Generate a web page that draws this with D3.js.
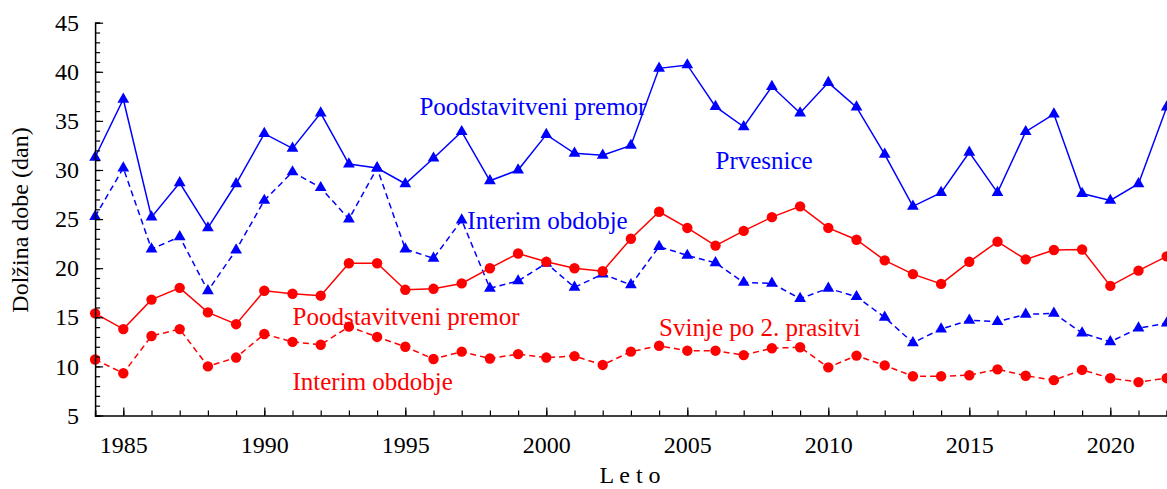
<!DOCTYPE html>
<html>
<head>
<meta charset="utf-8">
<script src="https://cdn.jsdelivr.net/npm/d3@7"></script>
<style>
  html, body { margin: 0; padding: 0; background: #fff; }
  svg { display: block; }
  svg text { font-family: "Liberation Serif", "Times New Roman", Times, serif !important; }
</style>
</head>
<body>
<svg id="chart" width="1167" height="489"></svg>
<script>
// Years 1984–2022
const years = d3.range(1984, 2023);

// Prvesnice (gilts)
const prvesnicePremor = [31.3, 37.2, 25.2, 28.7, 24.1, 28.6, 33.7, 32.2, 35.8, 30.6,
  30.2, 28.6, 31.2, 33.9, 28.9, 30.0, 33.6, 31.7, 31.5, 32.5,
  40.35, 40.7, 36.45, 34.4, 38.5, 35.8, 38.9, 36.4, 31.6, 26.3,
  27.7, 31.8, 27.7, 33.9, 35.7, 27.6, 26.9, 28.6, 36.4];
const prvesniceInterim = [25.25, 30.2, 21.95, 23.2, 17.7, 21.85, 26.9, 29.8, 28.2, 25.0,
  30.2, 21.95, 21.0, 24.9, 17.95, 18.7, 20.5, 18.05, 19.4, 18.3,
  22.2, 21.3, 20.55, 18.55, 18.45, 16.9, 17.95, 17.1, 15.0, 12.4,
  13.8, 14.7, 14.55, 15.3, 15.4, 13.4, 12.5, 13.9, 14.4];

// Svinje po 2. prasitvi (sows after 2nd parity)
const svinjePremor = [15.4, 13.8, 16.8, 18.0, 15.5, 14.3, 17.7, 17.4, 17.2, 20.5,
  20.5, 17.8, 17.9, 18.45, 20.0, 21.5, 20.65, 20.0, 19.7, 23.0,
  25.75, 24.1, 22.3, 23.8, 25.2, 26.3, 24.1, 22.9, 20.8, 19.4,
  18.4, 20.65, 22.7, 20.9, 21.85, 21.9, 18.2, 19.75, 21.2];
const svinjeInterim = [10.7, 9.3, 13.1, 13.8, 10.0, 10.9, 13.3, 12.5, 12.2, 14.05,
  13.0, 12.0, 10.75, 11.5, 10.8, 11.25, 10.9, 11.05, 10.15, 11.5,
  12.1, 11.6, 11.6, 11.15, 11.85, 11.95, 9.9, 11.1, 10.1, 9.0,
  9.0, 9.1, 9.7, 9.05, 8.6, 9.65, 8.8, 8.4, 8.8];

// Axis ticks
const xTickLabels = [1985, 1990, 1995, 2000, 2005, 2010, 2015, 2020];
const yTickLabels = [5, 10, 15, 20, 25, 30, 35, 40, 45];

const FONT = '"Liberation Serif", "Times New Roman", Times, serif';

const series = [
  { values: prvesnicePremor, color: "#0000ff", dashed: false, marker: "triangle" },
  { values: prvesniceInterim, color: "#0000ff", dashed: true, marker: "triangle" },
  { values: svinjePremor, color: "#ff0000", dashed: false, marker: "circle" },
  { values: svinjeInterim, color: "#ff0000", dashed: true, marker: "circle" }
];

const labels = [
  { text: "Poodstavitveni premor", color: "#0000ff", year: 1995.5, value: 35.65 },
  { text: "Prvesnice", color: "#0000ff", year: 2006.0, value: 30.15 },
  { text: "Interim obdobje", color: "#0000ff", year: 1997.2, value: 24.0 },
  { text: "Poodstavitveni premor", color: "#ff0000", year: 1991.0, value: 14.2 },
  { text: "Svinje po 2. prasitvi", color: "#ff0000", year: 2004.0, value: 13.1 },
  { text: "Interim obdobje", color: "#ff0000", year: 1991.0, value: 7.55 }
];

const svg = d3.select("#chart");
const x = d3.scaleLinear().domain([1984, 2022]).range([95.1, 1166.7]);
const y = d3.scaleLinear().domain([5, 45]).range([415.5, 22.7]);

const line = d3.line().x((d, i) => x(years[i])).y(d => y(d));

// Lines
series.forEach(s => {
  svg.append("path")
    .datum(s.values)
    .attr("d", line)
    .attr("fill", "none")
    .attr("stroke", s.color)
    .attr("stroke-width", 1.5)
    .attr("stroke-dasharray", s.dashed ? "6,4" : null);
});

// Markers
series.forEach(s => {
  const sym = d3.symbol()
    .type(s.marker === "triangle" ? d3.symbolTriangle : d3.symbolCircle)
    .size(s.marker === "triangle" ? 60 : 85);
  svg.append("g").selectAll("path")
    .data(s.values)
    .join("path")
    .attr("transform", (d, i) => `translate(${x(years[i])},${y(d)})`)
    .attr("d", sym)
    .attr("fill", s.color);
});

// Axes (ticks pointing inward)
const xMinor = d3.axisBottom(x).tickValues(years).tickSize(-5).tickFormat("");
const xMajor = d3.axisBottom(x).tickValues(xTickLabels).tickSize(-8).tickPadding(20).tickFormat(d3.format("d"));
const yMinor = d3.axisLeft(y).tickValues(d3.range(5, 46)).tickSize(-5).tickFormat("");
const yMajor = d3.axisLeft(y).tickValues(yTickLabels).tickSize(-8).tickPadding(16);

function styleAxis(g) {
  g.attr("font-family", FONT).attr("font-size", 24);
  g.select(".domain").attr("stroke", "#000").attr("stroke-width", 1.5);
  g.selectAll(".tick line").attr("stroke", "#000").attr("stroke-width", 1.2);
  g.selectAll(".tick text").attr("fill", "#000");
}

svg.append("g").attr("transform", `translate(0,${y(5)})`).call(xMinor).call(styleAxis);
svg.append("g").attr("transform", `translate(0,${y(5)})`).call(xMajor).call(styleAxis)
  .select(".domain").remove();
svg.append("g").attr("transform", `translate(${x(1984)},0)`).call(yMinor).call(styleAxis);
svg.append("g").attr("transform", `translate(${x(1984)},0)`).call(yMajor).call(styleAxis)
  .select(".domain").remove();

// Series annotations
svg.append("g")
  .attr("font-family", FONT)
  .attr("font-size", 25)
  .selectAll("text")
  .data(labels)
  .join("text")
  .attr("x", d => x(d.year))
  .attr("y", d => y(d.value))
  .attr("fill", d => d.color)
  .text(d => d.text);

// Axis titles
svg.append("text")
  .attr("transform", "translate(28,220) rotate(-90)")
  .attr("text-anchor", "middle")
  .attr("font-family", FONT)
  .attr("font-size", 24)
  .attr("fill", "#000")
  .text("Dolžina dobe (dan)");

svg.append("text")
  .attr("x", 630)
  .attr("y", 483)
  .attr("text-anchor", "middle")
  .attr("font-family", FONT)
  .attr("font-size", 24)
  .attr("fill", "#000")
  .text("L e t o");
</script>
</body>
</html>
